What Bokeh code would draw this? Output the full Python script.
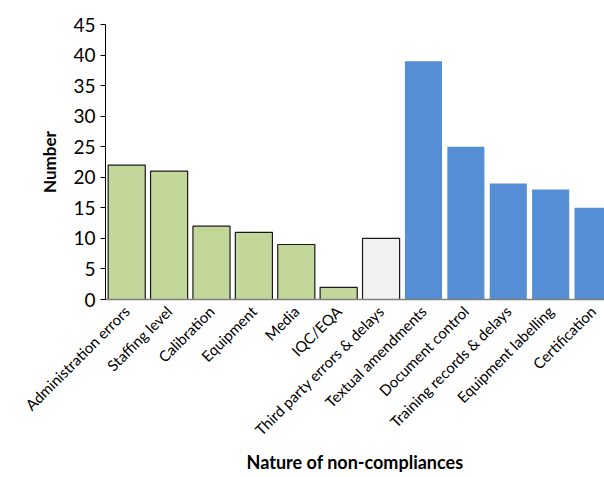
from math import pi

from bokeh.embed import file_html
from bokeh.models import FixedTicker, Range1d, SingleIntervalTicker, Title
from bokeh.plotting import figure
from bokeh.resources import INLINE

# Non-compliance categories and counts, grouped by colour
categories = [
    "Administration errors", "Staffing level", "Calibration", "Equipment",
    "Media", "IQC/EQA", "Third party errors & delays", "Textual amendments",
    "Document control", "Training records & delays", "Equipment labelling",
    "Certification",
]
counts = [22, 21, 12, 11, 9, 2, 10, 39, 25, 19, 18, 15]
groups = ["staff", "staff", "staff", "staff", "staff", "staff", "third",
          "doc", "doc", "doc", "doc", "doc"]

fill_for = {"staff": "#C4D79B", "third": "#F2F2F2", "doc": "#558ED5"}
line_for = {"staff": "#1a1a1a", "third": "#1a1a1a", "doc": None}

FONT = "Lato"

# category slots centred on i + 0.5; the last slot runs past the right edge
centers = [i + 0.5 for i in range(len(categories))]

p = figure(
    width=604, height=477,
    x_range=Range1d(0, 11.77),
    y_range=Range1d(0, 45),
    output_backend="svg", toolbar_location=None,
    min_border_left=105, min_border_right=0, min_border_top=24, min_border_bottom=178,
)

for xc, val, grp in zip(centers, counts, groups):
    kw = dict(fill_color=fill_for[grp])
    if line_for[grp]:
        kw.update(line_color=line_for[grp], line_width=1.2)
    else:
        kw.update(line_color=None)
    p.vbar(x=[xc], top=[val], width=0.875, **kw)

p.outline_line_color = None
p.xgrid.grid_line_color = None
p.ygrid.grid_line_color = None
p.background_fill_color = "white"

# y axis
p.yaxis.ticker = SingleIntervalTicker(interval=5)
p.yaxis.axis_line_color = "black"
p.yaxis.major_tick_line_color = "black"
p.yaxis.major_tick_out = 5
p.yaxis.major_tick_in = 0
p.yaxis.minor_tick_line_color = None
p.yaxis.major_label_text_font = FONT
p.yaxis.major_label_text_font_size = "19px"
p.yaxis.major_label_text_color = "black"
p.yaxis.axis_label = "Number"
p.yaxis.axis_label_text_font = FONT
p.yaxis.axis_label_text_font_style = "bold"
p.yaxis.axis_label_text_font_size = "17px"
p.yaxis.axis_label_text_color = "black"
p.yaxis.axis_label_standoff = 10

# x axis: rotated category labels; the axis title sits below as a Title
p.xaxis.ticker = FixedTicker(ticks=centers)
p.xaxis.major_label_overrides = {xc: name for xc, name in zip(centers, categories)}
p.xaxis.axis_line_color = "#7f7f7f"
p.xaxis.axis_line_width = 1.5
p.xaxis.major_tick_line_color = None
p.xaxis.minor_tick_line_color = None
p.xaxis.major_label_orientation = pi / 4
p.xaxis.major_label_text_font = FONT
p.xaxis.major_label_text_font_size = "15px"
p.xaxis.major_label_text_color = "black"
p.xaxis.major_label_standoff = 3

p.add_layout(Title(
    text="Nature of non-compliances", align="center",
    text_font=FONT, text_font_style="bold", text_font_size="18px", text_color="black",
    standoff=2,
), "below")

open("out.html", "w").write(file_html(p, INLINE))
